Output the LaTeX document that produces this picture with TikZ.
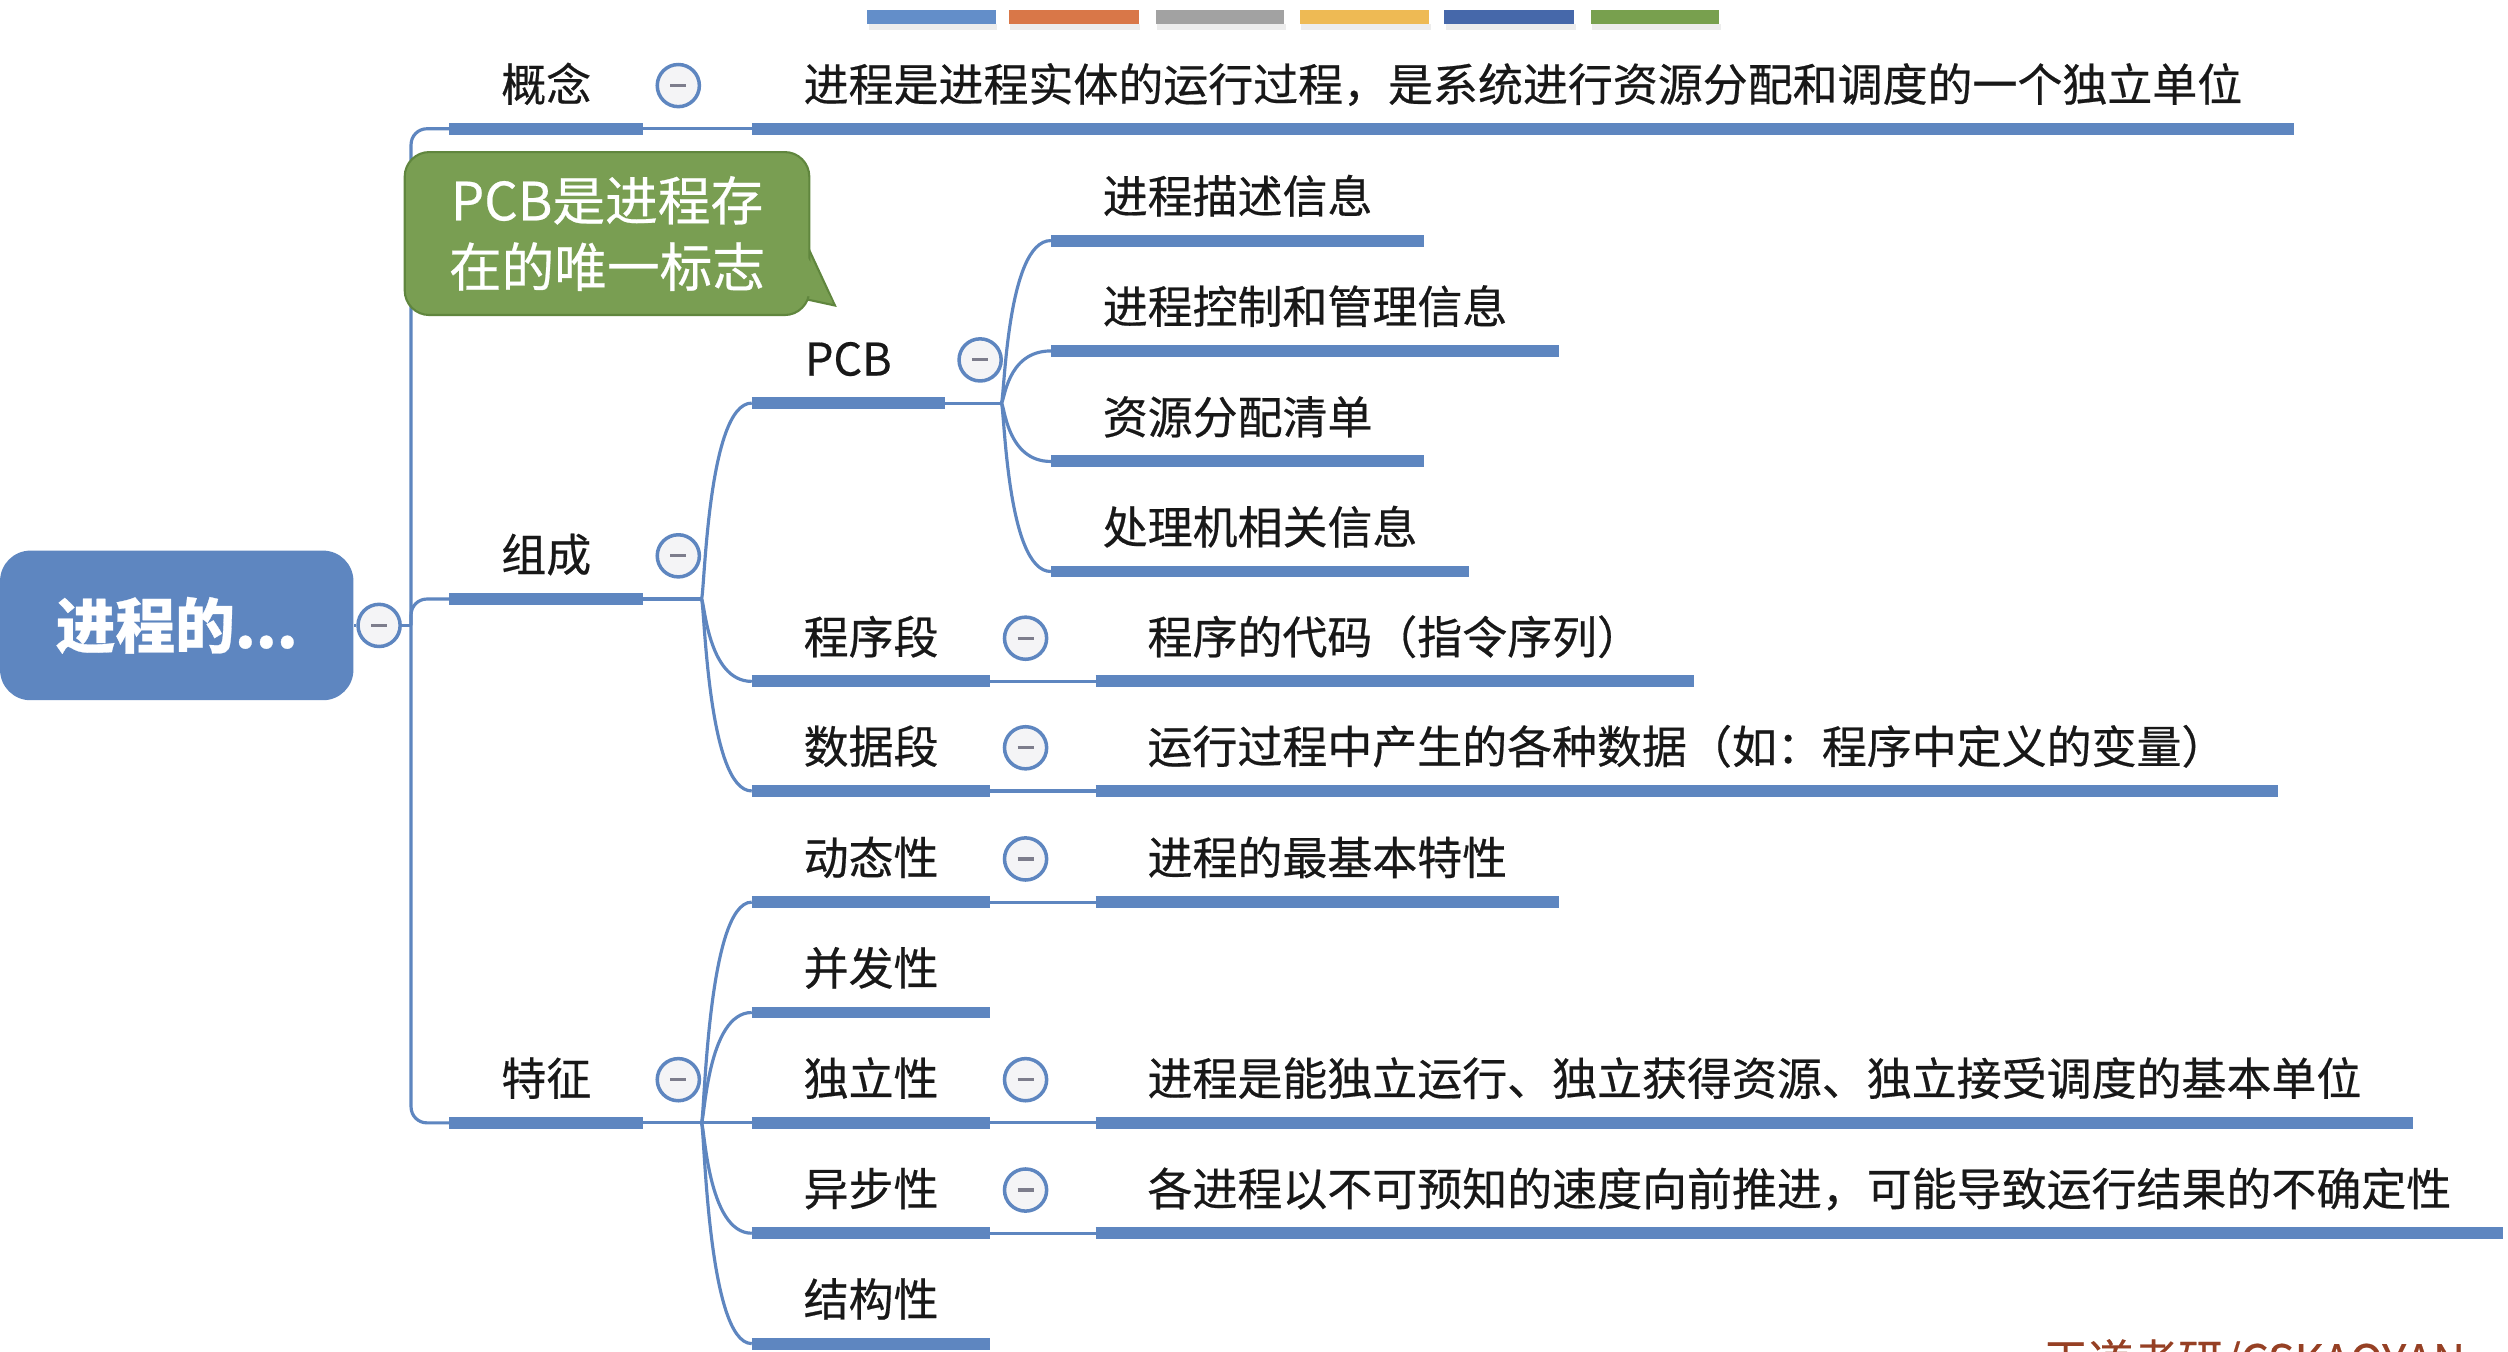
\documentclass[tikz,border=0pt]{standalone}
\usepackage{fontspec}
\setmainfont{Noto Sans CJK SC}[FakeBold=0.45]
\usetikzlibrary{calc}
\definecolor{lblue}{RGB}{94,134,192}
\definecolor{tfill}{RGB}{244,244,246}
\definecolor{tminus}{RGB}{125,125,140}
\definecolor{cfill}{RGB}{121,158,82}
\definecolor{cdraw}{RGB}{96,134,62}
\definecolor{wm}{RGB}{150,64,36}
\definecolor{barA}{RGB}{99,142,201}
\definecolor{barB}{RGB}{217,119,72}
\definecolor{barC}{RGB}{162,162,162}
\definecolor{barD}{RGB}{238,186,84}
\definecolor{barE}{RGB}{70,104,170}
\definecolor{barF}{RGB}{120,160,78}
\definecolor{txt}{RGB}{24,24,24}
\begin{document}
\begin{tikzpicture}[x=0.016cm,y=-0.016cm,
  topic/.style={anchor=south west, inner xsep=14.57pt, inner ysep=0pt,
    text height=11.5pt, text depth=7.65pt,
    font=\fontsize{12.8}{15}\selectfont, text=txt},
  uline/.style={draw=lblue, line width=3.4pt, line cap=butt},
  conn/.style={draw=lblue, line width=0.9pt},
  tog/.style={circle, draw=lblue, line width=1pt, fill=tfill, minimum size=12pt, inner sep=0pt,
    path picture={\draw[tminus, line width=0.9pt] ([xshift=-2.3pt]path picture bounding box.center) -- ([xshift=2.3pt]path picture bounding box.center);}},
  brc/.style={to path={.. controls ($(\tikztostart)+(2,0)$) and ($(\tikztotarget)+(-28,0)$) .. (\tikztotarget)}},
  rootnode/.style={rectangle, rounded corners=8.65pt, fill=lblue, minimum width=100.6pt, minimum height=42.6pt,
    text=white, font=\fontsize{17}{20}\selectfont\bfseries, inner sep=0pt},
  callnode/.style={rectangle, rounded corners=7pt, fill=cfill, draw=cdraw, line width=0.6pt,
    minimum width=115.2pt, minimum height=46.4pt, text=white, align=center,
    font=\fontsize{15}{18.9}\selectfont, inner sep=0pt},
  wmark/.style={anchor=base west, inner sep=0pt, text=wm, font=\fontsize{12.8}{15}\selectfont},
]
\useasboundingbox (0,0) rectangle (1568,845);
\clip (0,0) rectangle (1568,845);
\fill[white] (0,0) rectangle (1568,845);

% top colour bars
\foreach \xa/\xb/\c in {542/622.5/barA, 630.6/712/barB, 722.5/803/barC, 812.5/893.6/barD, 903/984/barE, 994.5/1075/barF}{
  \fill[black!7] (\xa+1,15) rectangle (\xb+1,19);
  \fill[\c] (\xa,6) rectangle (\xb,15);
}

% root
\node[rootnode] (rt) at (110.5,391) {进程的...};
\node[tog] (rg) at (237,391) {};
\coordinate (tr) at (257,391);

% level 1
\node[topic] (k1) at (281,80.5) {概念};
\node[topic] (k2) at (281,374.5) {组成};
\node[topic] (k3) at (281,702) {特征};

% 概念 leaf
\node[topic] (L0) at (470,80.5) {进程是进程实体的运行过程，是系统进行资源分配和调度的一个独立单位};

% 组成 children
\node[topic, minimum width=54.6pt] (pcb) at (470,252) {PCB};
\node[topic] (cxd) at (470,426) {程序段};
\node[topic] (sjd) at (470,494.5) {数据段};

% PCB children
\node[topic] (p1) at (657,150.4) {进程描述信息};
\node[topic] (p2) at (657,219.4) {进程控制和管理信息};
\node[topic] (p3) at (657,288.5) {资源分配清单};
\node[topic] (p4) at (657,357.3) {处理机相关信息};

% leaves of 程序段 / 数据段
\node[topic] (c1) at (685,426) {程序的代码（指令序列）};
\node[topic] (c2) at (685,494.5) {运行过程中产生的各种数据（如：程序中定义的变量）};

% 特征 children
\node[topic] (t1) at (470,564) {动态性};
\node[topic] (t2) at (470,633) {并发性};
\node[topic] (t3) at (470,702) {独立性};
\node[topic] (t4) at (470,771) {异步性};
\node[topic] (t5) at (470,840) {结构性};

\node[topic] (d1) at (685,564) {进程的最基本特性};
\node[topic] (d3) at (685,702) {进程是能独立运行、独立获得资源、独立接受调度的基本单位};
\node[topic] (d4) at (685,771) {各进程以不可预知的速度向前推进，可能导致运行结果的不确定性};

% branch points
\coordinate (b2) at (438.5,374.5);
\coordinate (b3) at (438.5,702);
\coordinate (bp) at (626,252);

% connectors
\draw[conn] (rt.east) -- (rg.west);
\draw[conn] (rg.east) -- (tr);
\draw[conn, rounded corners=4.5pt] (k1.south west) -| (tr) |- (k3.south west);
\draw[conn, rounded corners=4.5pt] (tr) |- (k2.south west);
\draw[conn] (k1.south east) -- (L0.south west);
\draw[conn] (k2.south east) -- (b2);
\foreach \n in {pcb,cxd,sjd} \draw[conn] (b2) to[brc] (\n.south west);
\draw[conn] (pcb.south east) -- (bp);
\foreach \n in {p1,p2,p3,p4} \draw[conn] (bp) to[brc] (\n.south west);
\draw[conn] (cxd.south east) -- (c1.south west);
\draw[conn] (sjd.south east) -- (c2.south west);
\draw[conn] (k3.south east) -- (b3);
\foreach \n in {t1,t2,t4,t5} \draw[conn] (b3) to[brc] (\n.south west);
\draw[conn] (b3) -- (t3.south west);
\draw[conn] (t1.south east) -- (d1.south west);
\draw[conn] (t3.south east) -- (d3.south west);
\draw[conn] (t4.south east) -- (d4.south west);

% underlines
\foreach \n in {k1,k2,k3,L0,pcb,cxd,sjd,p1,p2,p3,p4,c1,c2,t1,t2,t3,t4,t5,d1,d3,d4}
  \draw[uline] (\n.south west) -- (\n.south east);

% collapse toggles
\foreach \n in {k1,k2,k3,pcb,cxd,sjd,t1,t3,t4}
  \node[tog] (g\n) at ($(\n.south east)+(22,-27)$) {};

% callout
\filldraw[fill=cfill, draw=cdraw, line width=0.6pt] (503,150) -- (522,191) -- (499,186) -- cycle;
\node[callnode] (cb) at (379.5,146) {PCB是进程存\\在的唯一标志};
\fill[cfill] (501,154) -- (520.5,188.5) -- (500,184) -- cycle;

% watermark
\node[wmark] (wmk) at (1277,861) {王道考研/CSKAOYAN};
\end{tikzpicture}
\end{document}
